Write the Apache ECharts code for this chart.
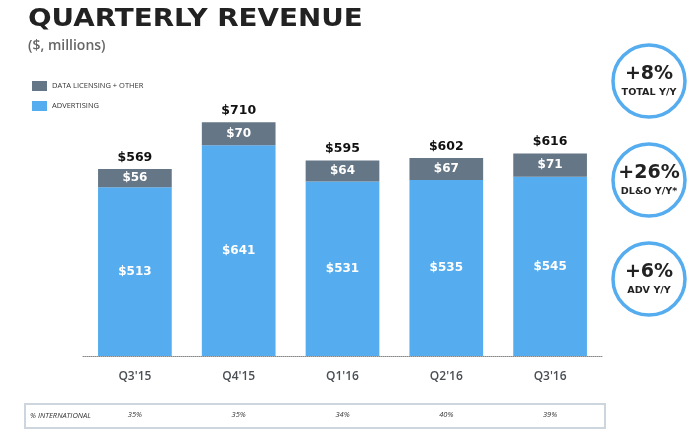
<!DOCTYPE html>
<html>
<head>
<meta charset="utf-8">
<script src="https://cdn.jsdelivr.net/npm/echarts@6/dist/echarts.min.js"></script>
<style>
  html, body { margin: 0; padding: 0; background: #fff; }
  #chart { width: 700px; height: 430px; }
</style>
</head>
<body>
<div id="chart"></div>
<script>
// quarterly revenue data ($, millions)
let quarters = ["Q3'15", "Q4'15", "Q1'16", "Q2'16", "Q3'16"];
let advertising = [513, 641, 531, 535, 545];
let dataLicensing = [56, 70, 64, 67, 71];
let totals = [569, 710, 595, 602, 616];
let pctInternational = ['35%', '35%', '34%', '40%', '39%'];

// y/y growth badges on the right
let growthValues = ['+8%', '+26%', '+6%'];
let growthLabels = ['TOTAL Y/Y', 'DL&O Y/Y*', 'ADV Y/Y'];

const BLUE = '#55acee';
const GRAY = '#657786';

var myChart = echarts.init(document.getElementById('chart'));

// circles + text for the growth badges
let badges = [];
let badgeY = [81, 180, 279];
growthValues.forEach((v, i) => {
    badges.push({
        type: 'circle',
        shape: { cx: 649, cy: badgeY[i], r: 36 },
        style: { fill: '#fff', stroke: BLUE, lineWidth: 3.5 }
    });
    badges.push({
        type: 'text',
        x: 649, y: badgeY[i] - 7,
        style: {
            text: v, textAlign: 'center', textVerticalAlign: 'middle',
            fontFamily: 'DejaVu Sans', fontWeight: 'bold', fontSize: 19, fill: '#222'
        }
    });
    badges.push({
        type: 'text',
        x: 649, y: badgeY[i] + 12,
        scaleX: 1.2,
        style: {
            text: growthLabels[i], textAlign: 'center', textVerticalAlign: 'middle',
            fontFamily: 'DejaVu Sans', fontWeight: 'bold', fontSize: 8, fill: '#222'
        }
    });
});

var option = {
    animation: false,
    legend: {
        orient: 'vertical',
        left: 27,
        top: 76,
        itemWidth: 15,
        itemHeight: 10,
        itemGap: 10,
        icon: 'rect',
        data: ['DATA LICENSING + OTHER', 'ADVERTISING'],
        textStyle: { fontFamily: 'Open Sans', fontSize: 7.5, color: '#333' }
    },
    grid: {
        left: 83,
        right: 98,
        top: 93,
        bottom: 74
    },
    xAxis: [
        {
            type: 'category',
            data: quarters,
            axisLine: { lineStyle: { type: 'dotted', color: '#888', width: 1 } },
            axisTick: { show: false },
            axisLabel: {
                margin: 15,
                fontFamily: 'Open Sans',
                fontWeight: 600,
                fontSize: 12,
                color: '#4a4f55'
            }
        },
        {
            type: 'category',
            data: pctInternational,
            position: 'bottom',
            offset: 55,
            axisLine: { show: false },
            axisTick: { show: false },
            axisLabel: {
                margin: 0,
                fontFamily: 'Open Sans',
                fontStyle: 'italic',
                fontSize: 7.5,
                color: '#333'
            }
        }
    ],
    yAxis: {
        type: 'value',
        min: 0,
        max: 800,
        show: false
    },
    series: [
        {
            name: 'ADVERTISING',
            type: 'bar',
            stack: 'rev',
            barCategoryGap: '29%',
            data: advertising,
            itemStyle: { color: BLUE },
            label: {
                show: true,
                position: 'inside',
                formatter: p => '$' + p.value,
                fontFamily: 'DejaVu Sans',
                fontWeight: 'bold',
                fontSize: 12,
                color: '#fff'
            }
        },
        {
            name: 'DATA LICENSING + OTHER',
            type: 'bar',
            stack: 'rev',
            data: dataLicensing,
            itemStyle: { color: GRAY },
            label: {
                show: true,
                position: 'inside',
                formatter: p => '$' + p.value,
                fontFamily: 'DejaVu Sans',
                fontWeight: 'bold',
                fontSize: 12,
                color: '#fff'
            }
        },
        {
            // invisible helper to place the totals above the stack
            name: 'total',
            type: 'bar',
            stack: 'rev',
            data: totals.map(() => 0),
            itemStyle: { color: 'transparent' },
            label: {
                show: true,
                position: 'top',
                distance: 5,
                formatter: p => '$' + totals[p.dataIndex],
                fontFamily: 'DejaVu Sans',
                fontWeight: 'bold',
                fontSize: 12.5,
                color: '#111'
            }
        }
    ],
    graphic: [
        {
            type: 'text',
            x: 28, y: 19,
            scaleX: 1.11,
            style: {
                text: 'QUARTERLY REVENUE', textVerticalAlign: 'middle',
                fontFamily: 'DejaVu Sans', fontWeight: 'bold', fontSize: 25, fill: '#222'
            }
        },
        {
            type: 'text',
            x: 28, y: 46,
            style: {
                text: '($, millions)', textVerticalAlign: 'middle',
                fontFamily: 'Open Sans', fontWeight: 600, fontSize: 14, fill: '#666'
            }
        },
        {
            type: 'rect',
            shape: { x: 25, y: 404, width: 580, height: 24 },
            style: { fill: 'none', stroke: '#cdd6de', lineWidth: 2 }
        },
        {
            type: 'text',
            x: 30, y: 416,
            style: {
                text: '% INTERNATIONAL', textVerticalAlign: 'middle',
                fontFamily: 'Open Sans', fontStyle: 'italic', fontSize: 7.5, fill: '#333'
            }
        }
    ].concat(badges)
};

myChart.setOption(option);
</script>
</body>
</html>
